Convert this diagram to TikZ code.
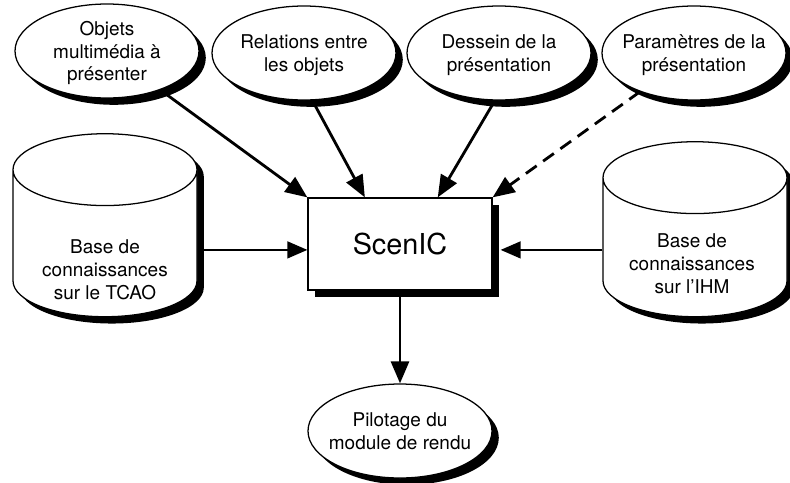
\documentclass[tikz,border=0pt]{standalone}
\usepackage{fontspec}
\setmainfont{TeX Gyre Heros}
\usetikzlibrary{arrows.meta,shapes.geometric,shadows}
\tikzset{
  ombre/.style={drop shadow={shadow xshift=1.7mm,shadow yshift=-1.7mm,fill=black,opacity=1}},
  etiquette/.style={align=center,font={\fontsize{13.5pt}{16.2pt}\selectfont}},
  bulle/.style={ellipse,draw,line width=0.9pt,fill=white,ombre,inner ysep=0pt,inner xsep=-4mm,
    minimum width=46mm,minimum height=23.5mm,etiquette},
  entree/.style={bulle,text depth=-4pt},
  base/.style={cylinder,shape border rotate=90,aspect=0.57,draw,line width=0.9pt,
    fill=white,ombre,minimum width=46mm,inner sep=0pt,text width=31.5mm},
  moteur/.style={rectangle,draw,line width=0.9pt,fill=white,ombre,
    minimum width=46mm,minimum height=23mm,font={\fontsize{20.5pt}{24pt}\selectfont}},
  fleche/.style={-{Triangle[length=5.5mm,width=4.5mm]},line width=2pt},
  fin/.style={-{Triangle[length=5mm,width=4.2mm]},line width=1.4pt}
}
\begin{document}
\begin{tikzpicture}[x=0.25mm,y=-0.25mm]
\useasboundingbox (0,0) rectangle (790,482);
% entrees
\node[entree] (obj) at (107,51) {Objets\\multimédia à\\présenter};
\node[entree] (rel) at (304,53) {Relations entre\\les objets};
\node[entree] (des) at (499,53) {Dessein de la\\présentation};
\node[entree] (par) at (694,53) {Paramètres de la\\présentation};
% bases de connaissances
\node[base,minimum height=45.75mm] (tcao) at (105,243.5) {};
\node[etiquette] (tcaotexte) at (105,270) {Base de\\connaissances\\sur le TCAO};
\node[base,minimum height=43.75mm] (ihm) at (695,247.5) {};
\node[etiquette] (ihmtexte) at (692,263.5) {Base de\\connaissances\\sur l’IHM};
% moteur et sortie
\node[moteur] (scenic) at (400,244) {ScenIC};
\node[bulle] (pil) at (400,431) {Pilotage du\\module de rendu};
\draw[fleche] (obj) -- (scenic.north west);
\draw[fleche] (rel.-80) -- (scenic.127);
\draw[fleche] (des.-95) -- (scenic.51);
\draw[fleche,dash pattern=on 3.3mm off 2mm] (par) -- (scenic.north east);
\draw[fin] ([yshift=-1.6mm]tcao.east) -- ([yshift=-1.6mm]tcao.east -| scenic.west);
\draw[fin,shorten >=2mm] ([yshift=-0.6mm]ihm.west) -- ([yshift=-0.6mm]ihm.west -| scenic.east);
\draw[fleche] (scenic) -- (pil);
\end{tikzpicture}
\end{document}
